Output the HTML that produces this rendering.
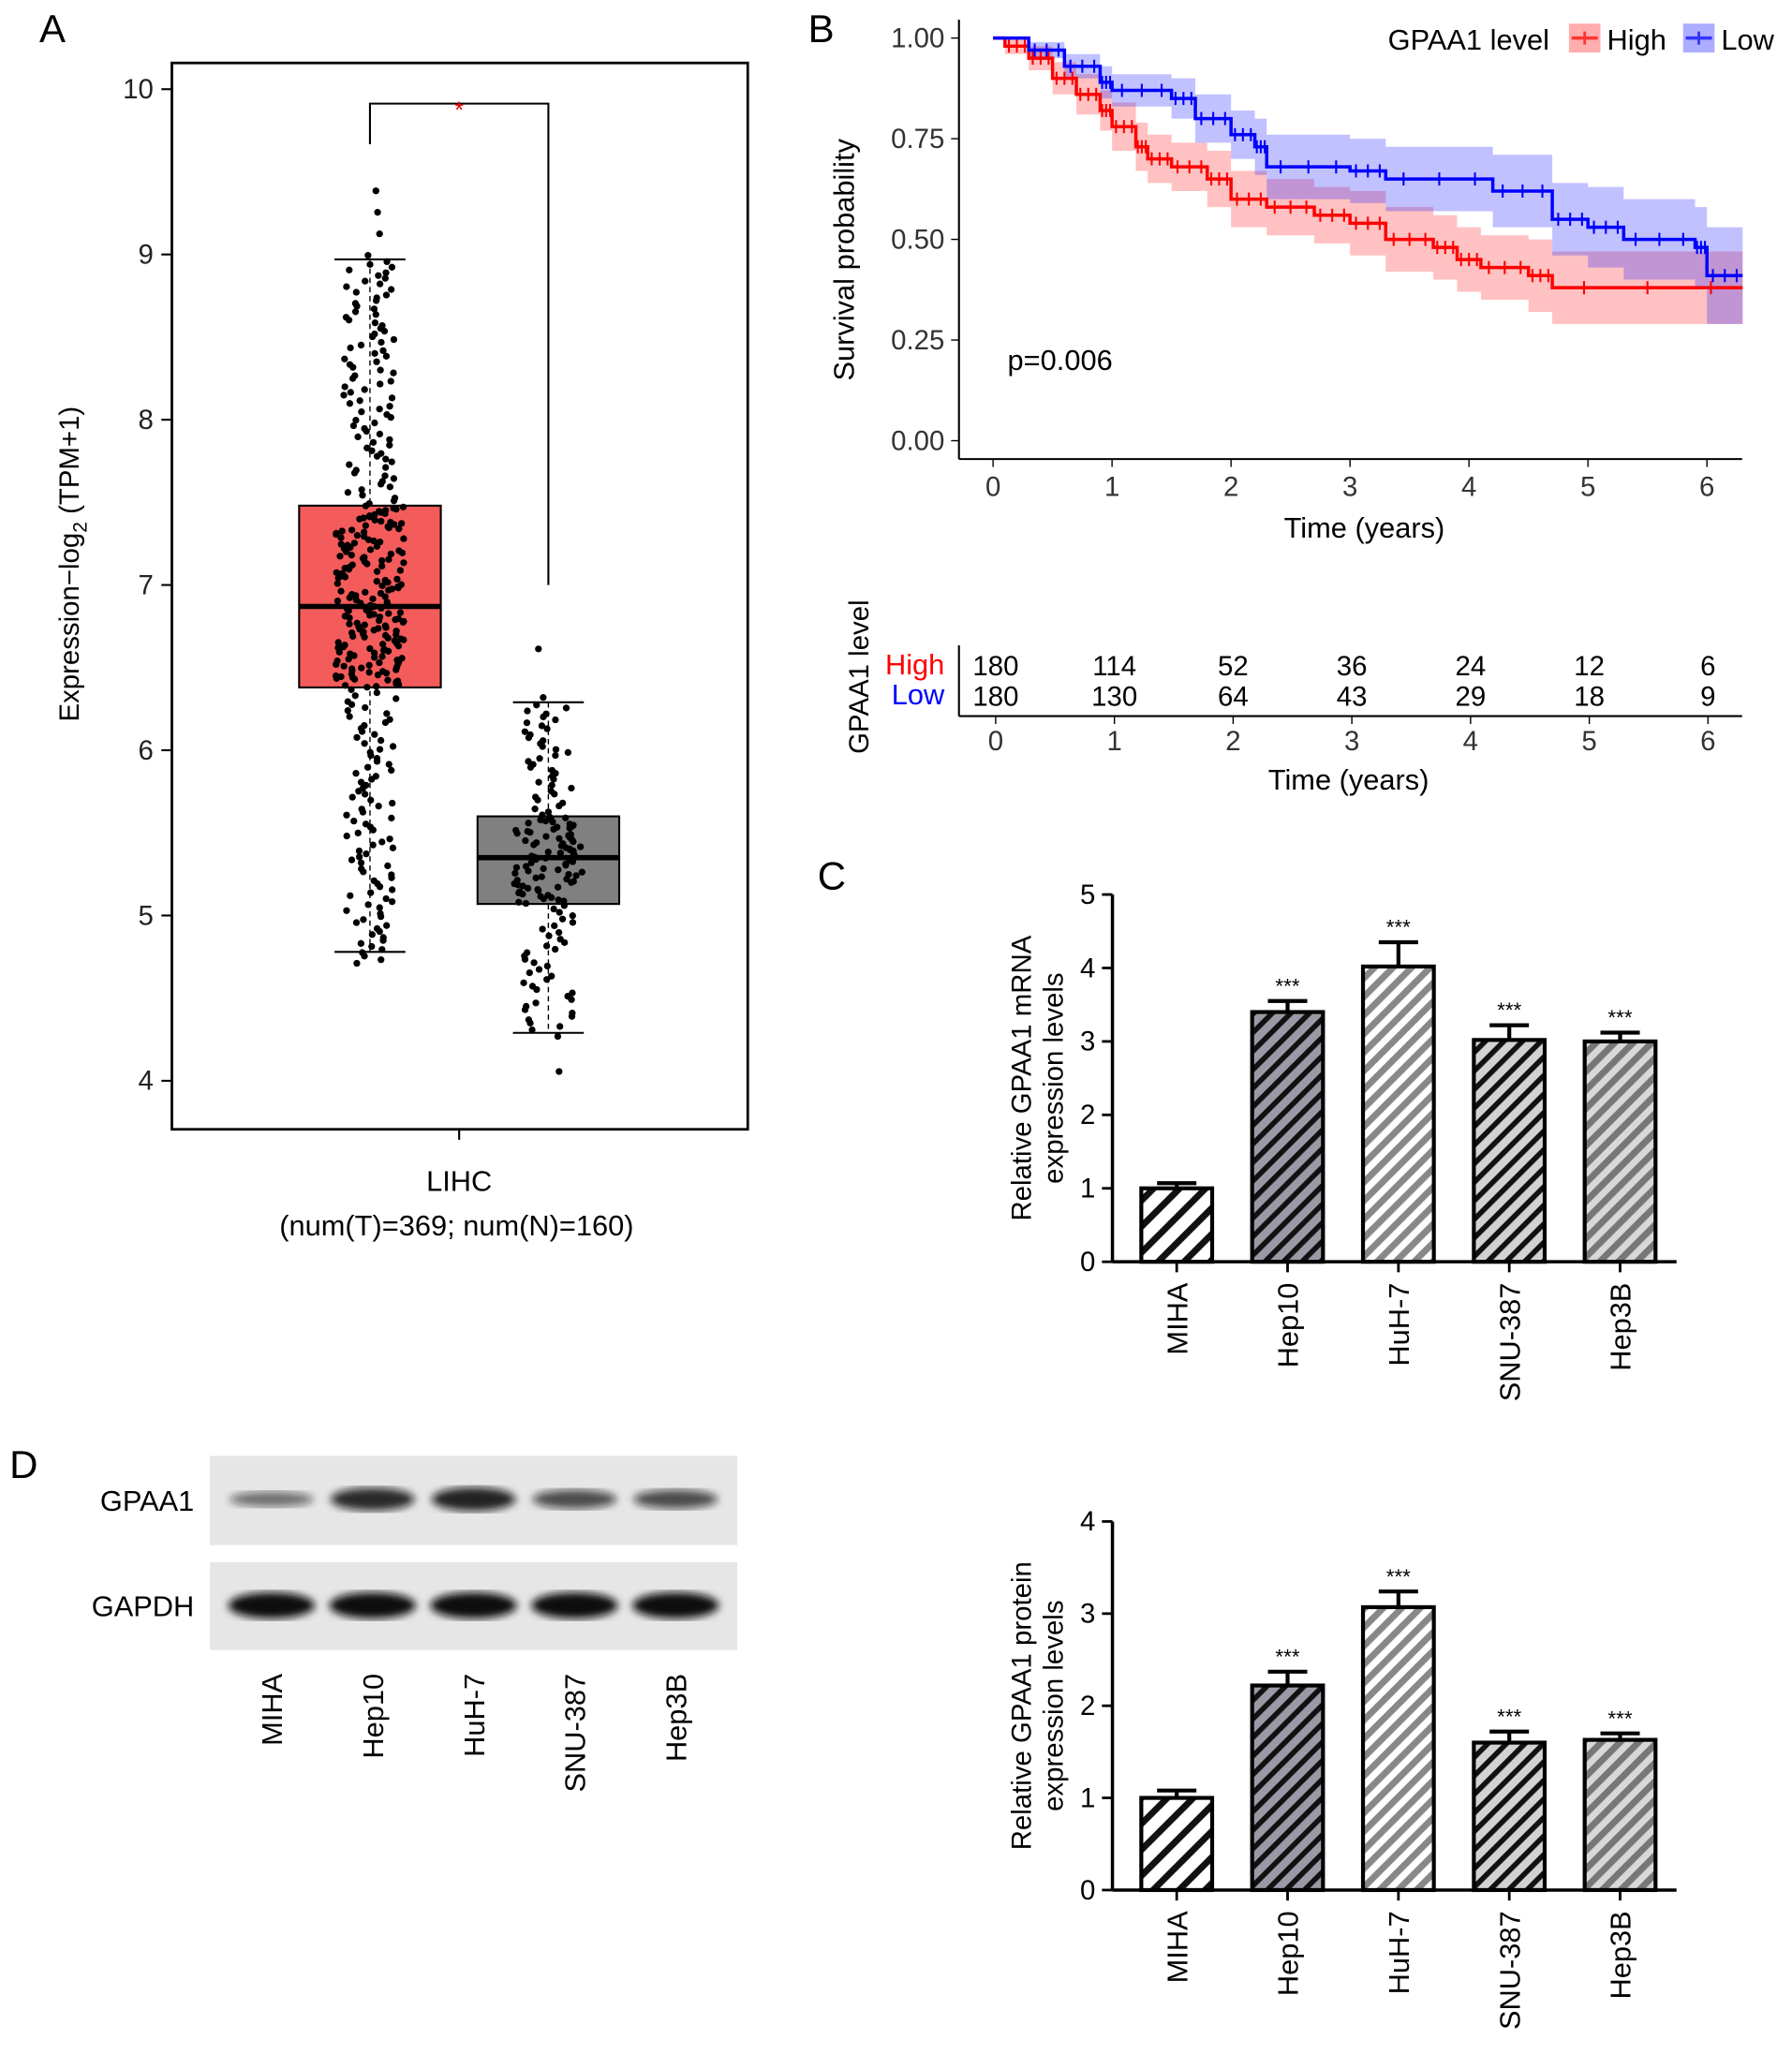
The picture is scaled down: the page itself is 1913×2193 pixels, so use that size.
<!DOCTYPE html>
<html><head><meta charset="utf-8"><style>
html,body{margin:0;padding:0;background:#fff;}
svg{display:block;font-family:"Liberation Sans",Arial,sans-serif;}
</style></head><body>
<svg id="fig" width="1913" height="2193" viewBox="0 0 1366 1566" xmlns="http://www.w3.org/2000/svg">
<defs>
<pattern id="pMIHA" patternUnits="userSpaceOnUse" width="14" height="14" patternTransform="rotate(45)"><rect width="14" height="14" fill="#fff"/><rect width="5" height="14" fill="#111"/></pattern>
<pattern id="pHep10" patternUnits="userSpaceOnUse" width="10" height="10" patternTransform="rotate(45)"><rect width="10" height="10" fill="#9a9aa6"/><rect width="4" height="10" fill="#111"/></pattern>
<pattern id="pHuH" patternUnits="userSpaceOnUse" width="10" height="10" patternTransform="rotate(45)"><rect width="10" height="10" fill="#fff"/><rect width="5" height="10" fill="#888"/></pattern>
<pattern id="pSNU" patternUnits="userSpaceOnUse" width="10" height="10" patternTransform="rotate(45)"><rect width="10" height="10" fill="#d2d2d2"/><rect width="4" height="10" fill="#111"/></pattern>
<pattern id="pHep3B" patternUnits="userSpaceOnUse" width="10" height="10" patternTransform="rotate(45)"><rect width="10" height="10" fill="#d8d8d8"/><rect width="5" height="10" fill="#777"/></pattern>
<filter id="blur"><feGaussianBlur stdDeviation="3"/></filter>
</defs>
<g id="A"></g><g id="B"></g><g id="C"></g><g id="D"></g>
</svg>
<script>
const NS="http://www.w3.org/2000/svg";
function mk(p,t,a,txt){const e=document.createElementNS(NS,t);for(const k in a)e.setAttribute(k,a[k]);if(txt!==undefined)e.textContent=txt;p.appendChild(e);return e;}
function nm(e,n,i){return e;}

// ---------- Panel A data ----------
const boxGroups=["Tumor","Normal"];
const dotMin=[4.7,3.95];
const boxMin=[4.78,4.29];
const boxQ1=[6.38,5.07];
const boxMed=[6.87,5.35];
const boxQ3=[7.48,5.60];
const boxMax=[8.97,6.29];
const dotMax=[9.45,6.76];
const boxCounts=[369,160];
const yTicksA=[4,5,6,7,8,9,10];
// ---------- Panel B data ----------
const kmHighT=[0,0.1,0.3,0.5,0.7,0.9,1.0,1.2,1.3,1.5,1.8,2.0,2.3,2.7,3.0,3.3,3.7,3.9,4.1,4.5,4.7,6.3];
const kmHighS=[1,0.98,0.95,0.9,0.86,0.82,0.78,0.73,0.7,0.68,0.65,0.6,0.58,0.56,0.54,0.5,0.48,0.45,0.43,0.41,0.38,0.38];
const kmHighCI=[0,0.02,0.03,0.04,0.05,0.05,0.06,0.06,0.06,0.06,0.07,0.07,0.07,0.07,0.08,0.08,0.08,0.08,0.08,0.09,0.09,0.09];
const kmLowT=[0,0.3,0.6,0.9,1.0,1.5,1.7,2.0,2.2,2.3,3.0,3.3,4.2,4.7,5.0,5.3,5.9,6.0,6.3];
const kmLowS=[1,0.97,0.93,0.89,0.87,0.85,0.8,0.76,0.73,0.68,0.67,0.65,0.62,0.55,0.53,0.5,0.48,0.41,0.41];
const kmLowCI=[0,0.02,0.03,0.04,0.04,0.05,0.06,0.06,0.07,0.08,0.08,0.08,0.09,0.09,0.1,0.1,0.1,0.12,0.12];
const xTicksB=[0,1,2,3,4,5,6];
const yTicksB=[0,0.25,0.5,0.75,1];
const riskHigh=[180,114,52,36,24,12,6];
const riskLow=[180,130,64,43,29,18,9];
// ---------- Panel C data ----------
const cells=["MIHA","Hep10","HuH-7","SNU-387","Hep3B"];
const mrnaVals=[1.0,3.4,4.02,3.02,3.0];
const mrnaErr=[0.07,0.15,0.33,0.2,0.12];
const protVals=[1.0,2.22,3.07,1.6,1.63];
const protErr=[0.08,0.15,0.17,0.12,0.07];
const gpaaBand=[0.45,0.95,1.0,0.7,0.7];
const gapdhBand=[1,1,1,1,1];

const svg=document.getElementById('fig');
[["A",40,32],["B",626,32],["C",634,678],["D",18,1127]].forEach(([t,x,y])=>{nm(mk(svg,'text',{x,y,'font-size':30,'text-anchor':'middle'},t),'panel-label-'+t.toLowerCase(),false);});

// ---------- A ----------
(function(){
const g=document.getElementById('A');nm(g,'boxplot-panel',false);
const yA=v=>824-(v-4)*126;
nm(mk(g,'rect',{x:131,y:48,width:439,height:813,fill:'none',stroke:'#000','stroke-width':2}),'plot-frame',false);
yTicksA.forEach(v=>{mk(g,'line',{x1:123,x2:131,y1:yA(v),y2:yA(v),stroke:'#000','stroke-width':1.5});
 nm(mk(g,'text',{x:117,y:yA(v)+7,'font-size':21,'text-anchor':'end',fill:'#222'},v),'y-tick-label',false);});
const yt=nm(mk(g,'text',{transform:'translate(60,430) rotate(-90)','font-size':21,'text-anchor':'middle'}),'y-axis-title',false);
yt.innerHTML='Expression−log<tspan font-size="15" dy="6">2</tspan><tspan dy="-6"> (TPM+1)</tspan>';
mk(g,'line',{x1:350,x2:350,y1:861,y2:869,stroke:'#000','stroke-width':1.5});
nm(mk(g,'text',{x:350,y:908,'font-size':22,'text-anchor':'middle'},'LIHC'),'x-tick-label',false);
nm(mk(g,'text',{x:348,y:942,'font-size':22,'text-anchor':'middle'},'(num(T)=369; num(N)=160)'),'x-axis-subtitle',false);
const cx=[282,418],fills=['#f45b5b','#808080'];
let seed=7;const rnd=()=>{seed=(seed*16807)%2147483647;return seed/2147483647;};
boxGroups.forEach((gname,i)=>{
 const c=cx[i];
 mk(g,'line',{x1:c,x2:c,y1:yA(boxMax[i]),y2:yA(boxMin[i]),stroke:'#000','stroke-dasharray':'4,3','stroke-width':1});
 [boxMax[i],boxMin[i]].forEach(v=>mk(g,'line',{x1:c-27,x2:c+27,y1:yA(v),y2:yA(v),stroke:'#000','stroke-width':1.5}));
 nm(mk(g,'rect',{x:c-54,y:yA(boxQ3[i]),width:108,height:yA(boxQ1[i])-yA(boxQ3[i]),fill:fills[i],stroke:'#000','stroke-width':1.5}),'box-'+gname.toLowerCase(),false);
 nm(mk(g,'line',{x1:c-54,x2:c+54,y1:yA(boxMed[i]),y2:yA(boxMed[i]),stroke:'#000','stroke-width':4}),'median-'+gname.toLowerCase(),false);
 const q=[dotMin[i],boxMin[i],boxQ1[i],boxMed[i],boxQ3[i],boxMax[i],dotMax[i]];
 const w=[0.01,0.24,0.25,0.25,0.24,0.01];
 const n=boxCounts[i];
 for(let k=0;k<n;k++){let p=(k+0.5)/n,s=0;while(s<w.length-1&&p>w[s]){p-=w[s];s++;}const f=Math.min(1,p/w[s]);const v=q[s]+(q[s+1]-q[s])*f;
  const sp=(s===0||s===5)?10:(s===1||s===4?20:26);
  mk(g,'circle',{cx:c+(rnd()-0.5)*2*sp,cy:yA(v),r:2.6,fill:'#000'});}
});
nm(mk(g,'path',{d:'M282,110 V79 H418 V446',fill:'none',stroke:'#000','stroke-width':1.5}),'significance-bracket',false);
nm(mk(g,'text',{x:350,y:90,'font-size':18,fill:'#e00','text-anchor':'middle'},'*'),'significance-star',false);
})();

// ---------- B ----------
(function(){
const g=document.getElementById('B');nm(g,'survival-panel',false);
const xB=t=>757+t*90.7, yB=s=>336-s*307;
function band(T,S,CI,col,name){let up='',lo='';for(let i=0;i<T.length;i++){const x0=xB(T[i]),x1=xB(i+1<T.length?T[i+1]:T[i]);
 up+=(i?'L':'M')+x0+','+yB(Math.min(1,S[i]+CI[i]))+'L'+x1+','+yB(Math.min(1,S[i]+CI[i]));
 lo=('L'+x1+','+yB(S[i]-CI[i])+'L'+x0+','+yB(S[i]-CI[i]))+lo;}
 nm(mk(g,'path',{d:up+lo+'Z',fill:col,'fill-opacity':0.3,stroke:'none'}),name,false);}
function line(T,S,col,name){let d='';for(let i=0;i<T.length;i++){const x0=xB(T[i]),x1=xB(i+1<T.length?T[i+1]:T[i]);d+=(i?'L':'M')+x0+','+yB(S[i])+'L'+x1+','+yB(S[i]);}
 nm(mk(g,'path',{d,fill:'none',stroke:col,'stroke-width':2.5}),name,false);
 for(let i=1;i<T.length-1;i++){for(let j=0;j<3;j++){const x=xB(T[i]+(T[i+1]-T[i])*(j+0.5)/3);mk(g,'line',{x1:x,x2:x,y1:yB(S[i])-5,y2:yB(S[i])+5,stroke:col,'stroke-width':1.5});}}}
band(kmHighT,kmHighS,kmHighCI,'#f33','ci-band-high');band(kmLowT,kmLowS,kmLowCI,'#33f','ci-band-low');
line(kmHighT,kmHighS,'#f00','km-curve-high');line(kmLowT,kmLowS,'#00f','km-curve-low');
mk(g,'line',{x1:731,x2:731,y1:15,y2:350,stroke:'#000','stroke-width':1.5});
mk(g,'line',{x1:731,x2:1328,y1:350,y2:350,stroke:'#000','stroke-width':1.5});
yTicksB.forEach(v=>{mk(g,'line',{x1:725,x2:731,y1:yB(v),y2:yB(v),stroke:'#000'});nm(mk(g,'text',{x:720,y:yB(v)+7,'font-size':21,'text-anchor':'end',fill:'#333'},v.toFixed(2)),'y-tick-label',false);});
xTicksB.forEach(v=>{mk(g,'line',{x1:xB(v),x2:xB(v),y1:350,y2:356,stroke:'#000'});nm(mk(g,'text',{x:xB(v),y:378,'font-size':21,'text-anchor':'middle',fill:'#333'},v),'x-tick-label',false);});
nm(mk(g,'text',{x:1040,y:410,'font-size':22,'text-anchor':'middle'},'Time (years)'),'x-axis-title',false);
nm(mk(g,'text',{transform:'translate(651,198) rotate(-90)','font-size':22,'text-anchor':'middle'},'Survival probability'),'y-axis-title',false);
nm(mk(g,'text',{x:768,y:282,'font-size':22},'p=0.006'),'p-value',false);
nm(mk(g,'text',{x:1058,y:38,'font-size':22},'GPAA1 level'),'legend-title',false);
[['High','#f33',1196],['Low','#33f',1283]].forEach(([t,c,x])=>{const e=nm(mk(g,'g',{}),'legend-entry-'+t.toLowerCase(),true);
 mk(e,'rect',{x,y:18,width:24,height:22,fill:c,'fill-opacity':0.4});mk(e,'line',{x1:x+2,x2:x+22,y1:29,y2:29,stroke:c,'stroke-width':2.5});mk(e,'line',{x1:x+12,x2:x+12,y1:24,y2:34,stroke:c,'stroke-width':2});
 mk(e,'text',{x:x+29,y:38,'font-size':22},t);});
mk(g,'line',{x1:731,x2:731,y1:492,y2:546,stroke:'#000','stroke-width':1.5});
mk(g,'line',{x1:731,x2:1328,y1:546,y2:546,stroke:'#000','stroke-width':1.5});
nm(mk(g,'text',{x:720,y:514,'font-size':22,fill:'#f00','text-anchor':'end'},'High'),'risk-row-label-high',false);
nm(mk(g,'text',{x:720,y:537,'font-size':22,fill:'#00f','text-anchor':'end'},'Low'),'risk-row-label-low',false);
const xr=t=>759+t*90.5;
riskHigh.forEach((v,i)=>nm(mk(g,'text',{x:xr(i),y:515,'font-size':21,'text-anchor':'middle'},v),'risk-count-high',false));
riskLow.forEach((v,i)=>nm(mk(g,'text',{x:xr(i),y:538,'font-size':21,'text-anchor':'middle'},v),'risk-count-low',false));
xTicksB.forEach(v=>{mk(g,'line',{x1:xr(v),x2:xr(v),y1:546,y2:552,stroke:'#000'});nm(mk(g,'text',{x:xr(v),y:572,'font-size':21,'text-anchor':'middle',fill:'#333'},v),'risk-x-tick-label',false);});
nm(mk(g,'text',{x:1028,y:602,'font-size':22,'text-anchor':'middle'},'Time (years)'),'risk-x-axis-title',false);
nm(mk(g,'text',{transform:'translate(662,516) rotate(-90)','font-size':21,'text-anchor':'middle'},'GPAA1 level'),'risk-y-axis-title',false);
})();

// ---------- C bar charts ----------
const pats=['pMIHA','pHep10','pHuH','pSNU','pHep3B'];
function barChart(g,vals,errs,y0,unit,maxV,title1,title2,name){
 const grp=nm(mk(g,'g',{}),name,false);
 const yv=v=>y0-v*unit, xc=i=>897+i*84.5;
 mk(grp,'line',{x1:848,x2:848,y1:yv(maxV),y2:y0,stroke:'#000','stroke-width':2.5});
 mk(grp,'line',{x1:848,x2:1278,y1:y0,y2:y0,stroke:'#000','stroke-width':2.5});
 for(let v=0;v<=maxV;v++){mk(grp,'line',{x1:840,x2:848,y1:yv(v),y2:yv(v),stroke:'#000','stroke-width':2});nm(mk(grp,'text',{x:835,y:yv(v)+7,'font-size':21,'text-anchor':'end'},v),'y-tick-label',false);}
 vals.forEach((v,i)=>{const x=xc(i);
  mk(grp,'line',{x1:x,x2:x,y1:yv(v),y2:yv(v+errs[i]),stroke:'#000','stroke-width':3});
  mk(grp,'line',{x1:x-15,x2:x+15,y1:yv(v+errs[i]),y2:yv(v+errs[i]),stroke:'#000','stroke-width':3});
  nm(mk(grp,'rect',{x:x-27,y:yv(v),width:54,height:v*unit,fill:'url(#'+pats[i]+')',stroke:'#000','stroke-width':3}),'bar-'+cells[i].toLowerCase(),false);
  if(i>0)nm(mk(grp,'text',{x,y:yv(v+errs[i])-6,'font-size':16,'text-anchor':'middle'},'***'),'significance-marker',false);
  mk(grp,'line',{x1:x,x2:x,y1:y0,y2:y0+8,stroke:'#000','stroke-width':2});
  nm(mk(grp,'text',{transform:`translate(${x+8},${y0+16}) rotate(-90)`,'font-size':22,'text-anchor':'end'},cells[i]),'x-tick-label',false);});
 nm(mk(grp,'text',{transform:`translate(786,${(y0+yv(maxV))/2}) rotate(-90)`,'font-size':21,'text-anchor':'middle'},title1),'y-axis-title',false);
 nm(mk(grp,'text',{transform:`translate(810,${(y0+yv(maxV))/2}) rotate(-90)`,'font-size':21,'text-anchor':'middle'},title2),'y-axis-title-line2',false);
}
const gc=document.getElementById('C');nm(gc,'bar-panels',false);
barChart(gc,mrnaVals,mrnaErr,962,56,5,'Relative GPAA1 mRNA','expression levels','mrna-bar-chart');
barChart(gc,protVals,protErr,1441,70.25,4,'Relative GPAA1 protein','expression levels','protein-bar-chart');

// ---------- D western blot ----------
(function(){
const g=document.getElementById('D');nm(g,'western-blot',false);
nm(mk(g,'rect',{x:160,y:1110,width:402,height:68,fill:'#e6e6e6'}),'blot-gpaa1',false);
nm(mk(g,'rect',{x:160,y:1191,width:402,height:67,fill:'#e6e6e6'}),'blot-gapdh',false);
nm(mk(g,'text',{x:148,y:1152,'font-size':22,'text-anchor':'end'},'GPAA1'),'row-label-gpaa1',false);
nm(mk(g,'text',{x:148,y:1232,'font-size':22,'text-anchor':'end'},'GAPDH'),'row-label-gapdh',false);
const lx=i=>207+i*77;
gpaaBand.forEach((v,i)=>{const e=mk(g,'ellipse',{cx:lx(i),cy:1143,rx:32,ry:3+6*v,fill:'#111','fill-opacity':0.3+0.6*v,filter:'url(#blur)'});nm(e,'band-gpaa1',false);});
gapdhBand.forEach((v,i)=>{const e=mk(g,'ellipse',{cx:lx(i),cy:1224,rx:33,ry:10*v,fill:'#111',filter:'url(#blur)'});nm(e,'band-gapdh',false);});
cells.forEach((c,i)=>nm(mk(g,'text',{transform:`translate(${lx(i)+8},1276) rotate(-90)`,'font-size':22,'text-anchor':'end'},c),'lane-label',false));
})();
</script>
</body></html>
